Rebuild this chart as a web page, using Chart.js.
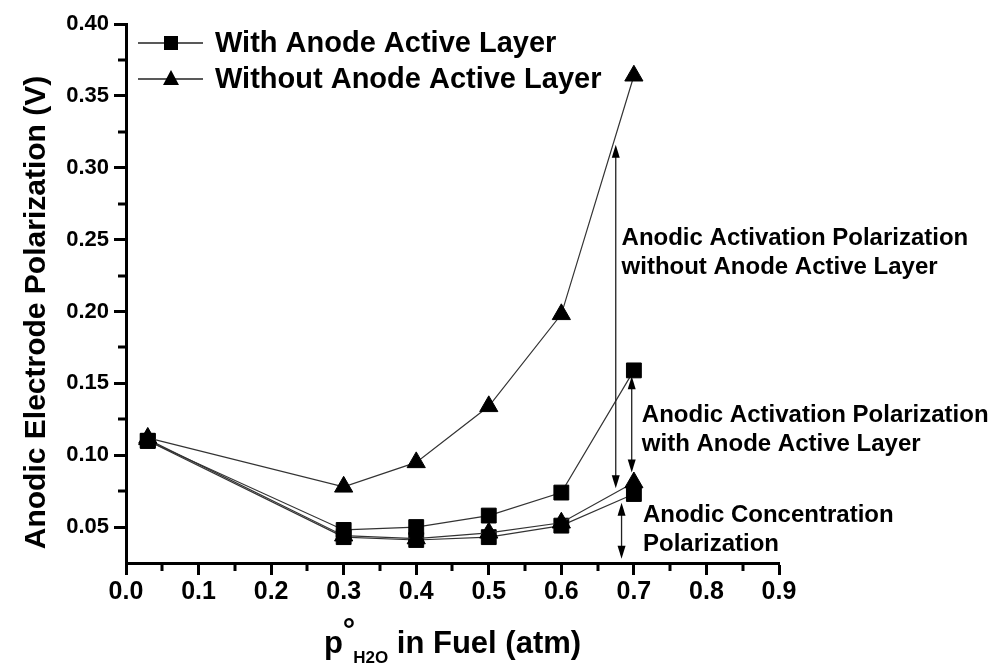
<!DOCTYPE html>
<html>
<head>
<meta charset="utf-8">
<title>Anodic Electrode Polarization</title>
<script src="https://cdn.jsdelivr.net/npm/chart.js@4.4.0/dist/chart.umd.min.js"></script>
<style>
  body { margin: 0; background: #fff; }
  canvas { display: block; }
</style>
</head>
<body>
<canvas id="ctx" width="1000" height="666"></canvas>
<script>
// water partial pressure in the fuel (atm)
const pressure = [0.03, 0.3, 0.4, 0.5, 0.6, 0.7];
// total anodic polarization (V)
const withLayer = [0.110, 0.048, 0.050, 0.058, 0.074, 0.159];
const withoutLayer = [0.112, 0.078, 0.095, 0.134, 0.198, 0.364];
// concentration part only (V)
const withLayerConc = [0.110, 0.043, 0.041, 0.043, 0.051, 0.073];
const withoutLayerConc = [0.111, 0.044, 0.042, 0.046, 0.053, 0.081];

const legendLabels = ['With Anode Active Layer', 'Without Anode Active Layer'];

// double arrows at the right end, in data units
const arrowX = [0.675, 0.697, 0.683];
const arrowFrom = [0.316, 0.155, 0.067];
const arrowTo = [0.077, 0.088, 0.028];

const noteText = [
  ['Anodic Activation Polarization', 'without Anode Active Layer'],
  ['Anodic Activation Polarization', 'with Anode Active Layer'],
  ['Anodic Concentration', 'Polarization']
];
const noteX = [0.683, 0.711, 0.7125];
const noteY = [0.246, 0.123, 0.0535];

const FONT = '"Liberation Sans", Arial, Helvetica, sans-serif';
const LINE = '#333';

function points(ys) {
  return pressure.map((p, i) => ({ x: p, y: ys[i] }));
}

function series(label, ys, style) {
  return {
    label: label,
    data: points(ys),
    borderColor: LINE,
    borderWidth: 1.2,
    pointStyle: style,
    pointRadius: 10.5,
    pointBackgroundColor: '#000',
    pointBorderColor: '#000',
    pointBorderWidth: 1,
    tension: 0,
    clip: false
  };
}

function onStep(v, step) {
  const k = v / step;
  return Math.abs(k - Math.round(k)) < 1e-6;
}

function arrowHead(ctx, x, tip, dir) {
  // dir -1 points up, +1 points down
  ctx.beginPath();
  ctx.moveTo(x, tip);
  ctx.lineTo(x - 4, tip - dir * 13);
  ctx.lineTo(x + 4, tip - dir * 13);
  ctx.closePath();
  ctx.fill();
}

function marker(ctx, style, x, y) {
  ctx.beginPath();
  if (style === 'rect') {
    ctx.rect(x - 7, y - 7, 14, 14);
  } else {
    ctx.moveTo(x, y - 9);
    ctx.lineTo(x + 8, y + 6);
    ctx.lineTo(x - 8, y + 6);
    ctx.closePath();
  }
  ctx.fill();
}

const extras = {
  id: 'extras',
  afterDatasetsDraw(chart) {
    const { ctx, chartArea: area, scales: { x, y } } = chart;
    ctx.save();
    ctx.strokeStyle = '#000';
    ctx.fillStyle = '#000';

    // minor ticks
    ctx.lineWidth = 3;
    ctx.beginPath();
    for (let v = 0.05; v < 0.9; v += 0.1) {
      const px = Math.round(x.getPixelForValue(v));
      ctx.moveTo(px, area.bottom);
      ctx.lineTo(px, area.bottom + 8);
    }
    for (let v = 0.075; v < 0.4; v += 0.05) {
      const py = Math.round(y.getPixelForValue(v));
      ctx.moveTo(area.left, py);
      ctx.lineTo(area.left - 8, py);
    }
    ctx.stroke();

    // double arrows
    ctx.lineWidth = 1.3;
    ctx.strokeStyle = '#222';
    ctx.fillStyle = '#000';
    arrowX.forEach((v, i) => {
      const px = x.getPixelForValue(v);
      const top = y.getPixelForValue(arrowFrom[i]);
      const bot = y.getPixelForValue(arrowTo[i]);
      ctx.beginPath();
      ctx.moveTo(px, top + 4);
      ctx.lineTo(px, bot - 4);
      ctx.stroke();
      arrowHead(ctx, px, top, -1);
      arrowHead(ctx, px, bot, 1);
    });

    // notes beside the arrows
    ctx.font = 'bold 24px ' + FONT;
    ctx.textAlign = 'left';
    ctx.textBaseline = 'alphabetic';
    noteText.forEach((lines, i) => {
      const px = x.getPixelForValue(noteX[i]);
      const py = y.getPixelForValue(noteY[i]);
      lines.forEach((t, j) => ctx.fillText(t, px, py + j * 29));
    });

    // legend
    const styles = ['rect', 'triangle'];
    ctx.font = 'bold 29px ' + FONT;
    ctx.textBaseline = 'middle';
    legendLabels.forEach((t, i) => {
      const ly = area.top + 19 + i * 36;
      const lx = area.left + 12;
      ctx.lineWidth = 1.3;
      ctx.strokeStyle = '#222';
      ctx.beginPath();
      ctx.moveTo(lx, ly);
      ctx.lineTo(lx + 65, ly);
      ctx.stroke();
      marker(ctx, styles[i], lx + 33, ly);
      ctx.fillText(t, lx + 77, ly + 1);
    });

    // y axis title
    ctx.save();
    ctx.translate(37, (area.top + area.bottom) / 2 + 19);
    ctx.rotate(-Math.PI / 2);
    ctx.font = 'bold 30px ' + FONT;
    ctx.textAlign = 'center';
    ctx.textBaseline = 'middle';
    ctx.fillText('Anodic Electrode Polarization (V)', 0, 0);
    ctx.restore();

    // x axis title: p, degree mark, H2O subscript, rest
    const base = 653;
    const big = 'bold 31px ' + FONT;
    const small = 'bold 17px ' + FONT;
    ctx.textBaseline = 'alphabetic';
    ctx.textAlign = 'left';
    ctx.font = big;
    const wp = ctx.measureText('p').width;
    const wd = ctx.measureText('\u00b0').width;
    const wr = ctx.measureText(' in Fuel (atm)').width;
    ctx.font = small;
    const ws = ctx.measureText('H2O').width;
    const total = wp + wd - 2 + ws + wr;
    const cx = (area.left + area.right) / 2 - total / 2;
    ctx.font = big;
    ctx.fillText('p', cx, base);
    ctx.fillText('\u00b0', cx + wp, base - 13);
    ctx.font = small;
    ctx.fillText('H2O', cx + wp + wd - 2, base + 10);
    ctx.font = big;
    ctx.fillText(' in Fuel (atm)', cx + wp + wd - 2 + ws, base);
    ctx.restore();
  }
};

const chart = new Chart(document.getElementById('ctx'), {
  type: 'line',
  data: {
    datasets: [
      series('Without Anode Active Layer', withoutLayer, 'triangle'),
      series('With Anode Active Layer', withLayer, 'rect'),
      series('Without Anode Active Layer (concentration)', withoutLayerConc, 'triangle'),
      series('With Anode Active Layer (concentration)', withLayerConc, 'rect')
    ]
  },
  options: {
    responsive: false,
    animation: false,
    devicePixelRatio: 1,
    layout: { padding: { top: 24, right: 221, bottom: 0, left: 0 } },
    plugins: {
      legend: { display: false },
      tooltip: { enabled: false }
    },
    scales: {
      x: {
        type: 'linear',
        min: 0,
        max: 0.9,
        afterFit(scale) { scale.height = 103; },
        border: { display: true, color: '#000', width: 3 },
        grid: {
          drawOnChartArea: false,
          tickLength: 12,
          tickWidth: 3,
          tickColor: c => (c.tick && onStep(c.tick.value, 0.1)) ? '#000' : 'rgba(0,0,0,0)'
        },
        ticks: {
          stepSize: 0.05,
          autoSkip: false,
          maxRotation: 0,
          padding: 2,
          color: '#000',
          font: { family: FONT, size: 25, weight: 'bold' },
          callback: v => onStep(v, 0.1) ? v.toFixed(1) : ''
        }
      },
      y: {
        min: 0.025,
        max: 0.40,
        afterFit(scale) { scale.width = 126; },
        border: { display: true, color: '#000', width: 3 },
        grid: {
          drawOnChartArea: false,
          tickLength: 12,
          tickWidth: 3,
          tickColor: c => (c.tick && c.tick.value > 0.04 && onStep(c.tick.value, 0.05)) ? '#000' : 'rgba(0,0,0,0)'
        },
        ticks: {
          stepSize: 0.025,
          autoSkip: false,
          padding: 5,
          color: '#000',
          font: { family: FONT, size: 22, weight: 'bold' },
          callback: v => (v > 0.04 && onStep(v, 0.05)) ? v.toFixed(2) : ''
        }
      }
    }
  },
  plugins: [extras]
});
</script>
</body>
</html>
